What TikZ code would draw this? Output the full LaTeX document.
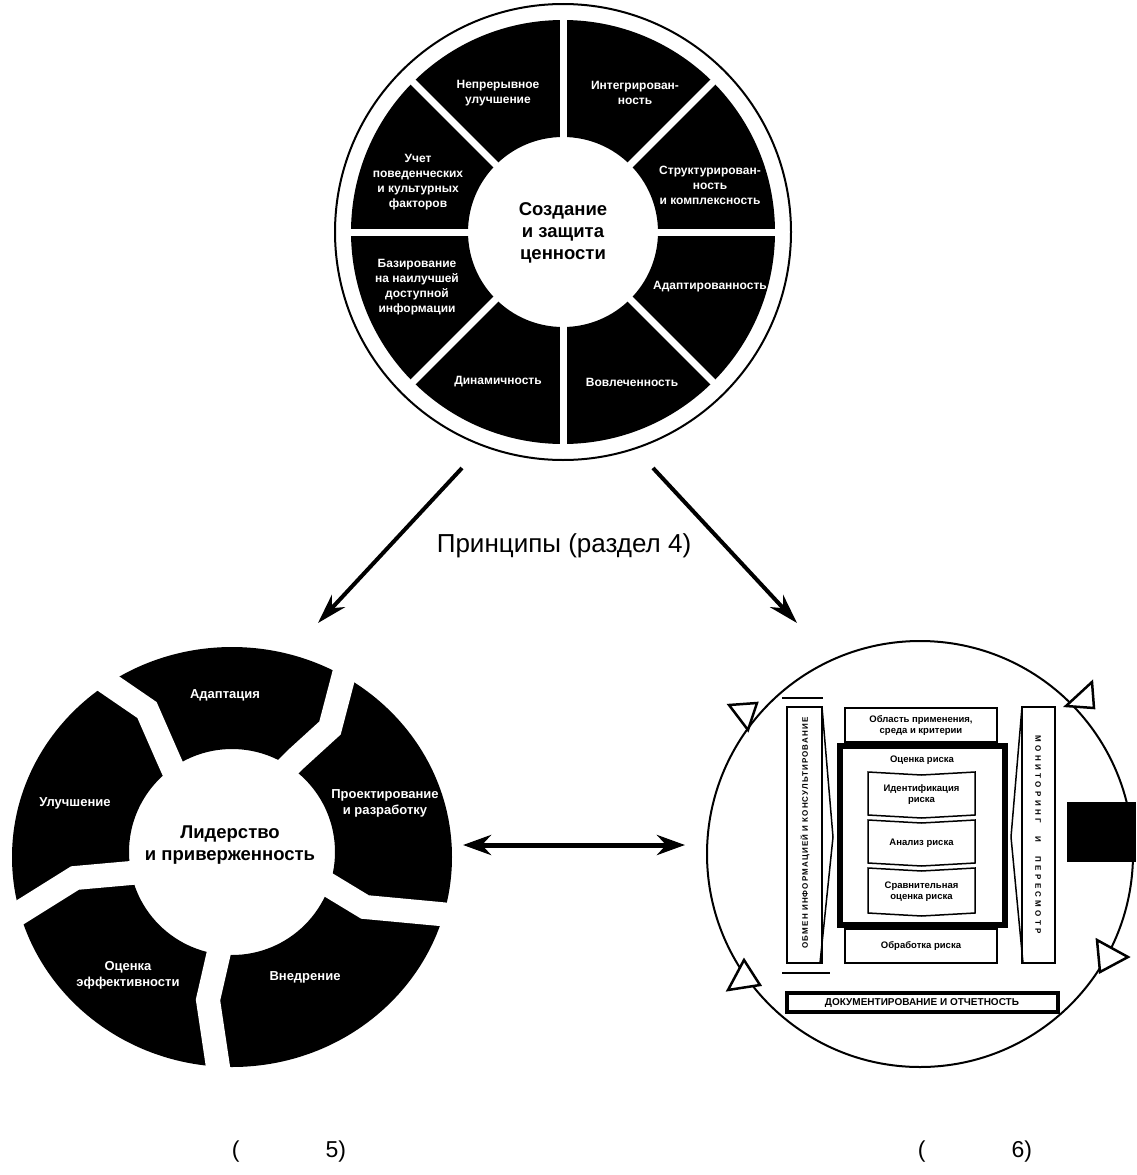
\documentclass[tikz,border=0pt]{standalone}
\usepackage{fontspec}
\setmainfont{Liberation Sans}
\usetikzlibrary{arrows.meta}
\tikzset{
  segtxt/.style={text=white, font=\bfseries\fontsize{12}{15}\selectfont, align=center, inner sep=0.75pt},
  fwtxt/.style={segtxt, font=\bfseries\fontsize{13}{16}\selectfont},
  hubtxt/.style={font=\bfseries\fontsize{18.5}{22}\selectfont, align=center, inner sep=0.75pt},
  proctxt/.style={font=\bfseries\fontsize{9.5}{11}\selectfont, align=center, inner sep=0.75pt},
  captxt/.style={font=\fontsize{23}{27}\selectfont, inner sep=0.75pt},
  thickarrow/.style={line width=4, -{Stealth[length=30,width=18]}},
  gapline/.style={white, line width=24},
  opentri/.style={line width=2.5, fill=white, line join=miter},
}
\begin{document}
\begin{tikzpicture}[x=1pt,y=1pt,yscale=-1,xscale=1]
\useasboundingbox (0,0) rectangle (1136,1175);

%Shape: Wheel of principles
\coordinate (prc) at (563,232);
\fill[even odd rule] (prc) circle (212) (prc) circle (95);
\foreach \a in {0,45,...,315}
  \draw[white, line width=7] (prc) -- ++(\a:222);
\draw[line width=2] (prc) circle (228);

% Text Node
\node[hubtxt] (prhub) at (563,233) {Создание\\и защита\\ценности};
\node[segtxt] (pr1) at (498,93) {Непрерывное\\улучшение};
\node[segtxt] (pr2) at (635,93) {Интегрирован-\\ность};
\node[segtxt] (pr3) at (710,185) {Структурирован-\\ность\\и комплексность};
\node[segtxt] (pr4) at (710,287) {Адаптированность};
\node[segtxt] (pr5) at (632,382) {Вовлеченность};
\node[segtxt] (pr6) at (498,382) {Динамичность};
\node[segtxt] (pr7) at (417,287) {Базирование\\на наилучшей\\доступной\\информации};
\node[segtxt] (pr8) at (418,182) {Учет\\поведенческих\\и культурных\\факторов};

% Text Node
\node[font=\fontsize{26}{30}\selectfont, inner sep=0.75pt] (prlabel) at (564,546) {Принципы (раздел 4)};

%Straight Lines: arrows to framework and process
\coordinate (prl) at (462,468);
\coordinate (prr) at (653,468);
\coordinate (fwtop) at (318,623);
\coordinate (pctop) at (797,623);
\draw[thickarrow] (prl) -- (fwtop);
\draw[thickarrow] (prr) -- (pctop);

%Shape: Wheel of framework
\coordinate (fwc) at (232,855);
\fill[even odd rule] (232,857) ellipse [x radius=220, y radius=210] (232,852) circle (103);
\draw[gapline] (280,775) -- (296,759) -- (330,728) -- (347,663) -- (353,638);
\draw[gapline] (180,785) -- (168,758) -- (147,710) -- (93,673) -- (68,656);
\draw[gapline] (160,870) -- (131,873) -- (75,878) -- (19,913) -- (-5,928);
\draw[gapline] (222,925) -- (219,952) -- (208,1000) -- (218,1067) -- (220,1090);
\draw[gapline] (300,868) -- (327,884) -- (365,907) -- (440,914) -- (470,917);

% Text Node
\node[hubtxt] (fwhub) at (230,845) {Лидерство\\и приверженность};
\node[fwtxt] (fw1) at (225,695) {Адаптация};
\node[fwtxt] (fw2) at (385,803) {Проектирование\\и разработку};
\node[fwtxt] (fw3) at (305,977) {Внедрение};
\node[fwtxt] (fw4) at (128,975) {Оценка\\эффективности};
\node[fwtxt] (fw5) at (75,803) {Улучшение};

%Straight Lines: framework <-> process
\coordinate (fwr) at (463,845);
\coordinate (pcl) at (685,845);
\draw[line width=5, {Stealth[length=28,width=20]}-{Stealth[length=28,width=20]}] (fwr) -- (pcl);

%Shape: Process circle
\coordinate (pcc) at (920,854);
\draw[line width=2] (pcc) circle (213);
\fill (1067,802) rectangle (1136,862);
\draw[opentri] (729,705) -- (757,703) -- (748,730) -- cycle;
\draw[opentri] (1066,706) -- (1092,682) -- (1094,708) -- cycle;
\draw[opentri] (1097,940) -- (1128,957) -- (1100,972) -- cycle;
\draw[opentri] (728,990) -- (744,960) -- (760,985) -- cycle;

%Shape: Communication column
\draw[line width=2] (787,707) rectangle (822,963);
\draw[line width=1.5] (822,707) -- (833,837) -- (820,963);
\draw[line width=1.5] (782,698) -- (823,698);
\draw[line width=1.5] (782,973) -- (830,973);
\node[proctxt, rotate=90, font=\bfseries\fontsize{8}{10}\selectfont\addfontfeature{LetterSpace=14}] (comm) at (805,833) {ОБМЕН ИНФОРМАЦИЕЙ И КОНСУЛЬТИРОВАНИЕ};

%Shape: Monitoring column
\draw[line width=2] (1022,707) rectangle (1055,963);
\draw[line width=1.5] (1022,707) -- (1011,837) -- (1023,963);
\node[proctxt, rotate=-90, font=\bfseries\fontsize{8}{10}\selectfont\addfontfeature{LetterSpace=42}] (mon) at (1038,835) {МОНИТОРИНГ\hspace{14pt}И\hspace{14pt}ПЕРЕСМОТР};

%Shape: Scope box
\draw[line width=1.5] (845,708) rectangle (997,742);
\node[proctxt] (scope) at (921,725) {Область применения,\\среда и критерии};

%Shape: Assessment box
\draw[line width=6] (840,746) rectangle (1005,925);
\node[proctxt] (assess) at (922,760) {Оценка риска};
\foreach \t/\b in {772/815, 820/863, 868/913}
  \draw[line width=1.5] (868,\t) -- (921.5,\t+3) -- (975,\t) -- (975,\b) -- (921.5,\b+3) -- (868,\b) -- cycle;
\node[proctxt] (ident) at (921.5,795) {Идентификация\\риска};
\node[proctxt] (anal) at (921.5,843) {Анализ риска};
\node[proctxt] (evalr) at (921.5,892) {Сравнительная\\оценка риска};

%Shape: Treatment box
\draw[line width=1.5] (845,929) rectangle (997,963);
\node[proctxt] (treat) at (921,946) {Обработка риска};

%Shape: Recording box
\draw[line width=4] (787,993) rectangle (1058,1012);
\node[proctxt, font=\bfseries\fontsize{10}{11}\selectfont] (rec) at (922,1002.5) {ДОКУМЕНТИРОВАНИЕ И ОТЧЕТНОСТЬ};

% Text Node
\node[captxt, anchor=west] (cap5) at (231,1152) {(\hspace{86pt}5)};
\node[captxt, anchor=west] (cap6) at (917,1152) {(\hspace{86pt}6)};

\end{tikzpicture}
\end{document}
